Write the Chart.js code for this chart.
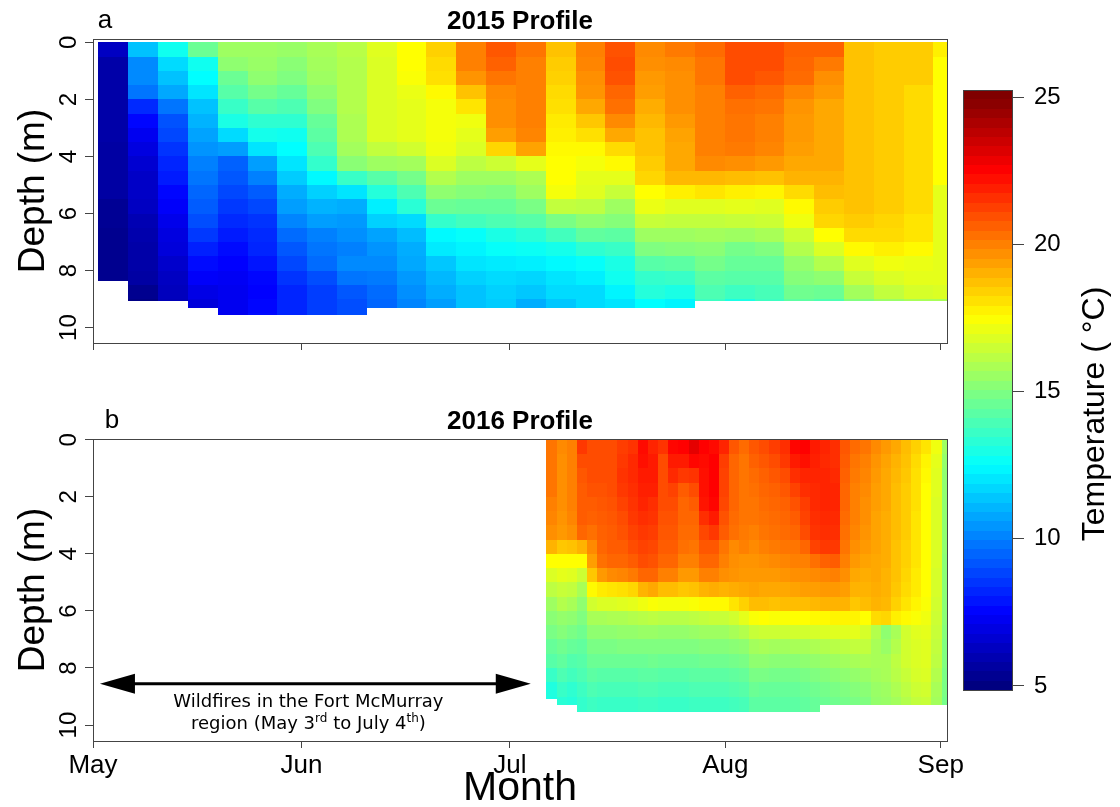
<!DOCTYPE html>
<html>
<head>
<meta charset="utf-8">
<title>Temperature profiles 2015 / 2016</title>
<script src="https://cdn.jsdelivr.net/npm/chart.js@4.4.1/dist/chart.umd.min.js"></script>
<style>
  html, body { margin: 0; padding: 0; background: #fff; }
  #wrap { position: relative; width: 1120px; height: 807px; overflow: hidden; }
  #wrap canvas { position: absolute; left: 0; top: 0; }
</style>
</head>
<body>
<div id="wrap">
  <canvas id="chart2015" width="1120" height="807"></canvas>
  <canvas id="chart2016" width="1120" height="807"></canvas>
  <canvas id="chartScale" width="1120" height="807"></canvas>
</div>
<script>
const FONT = "'Liberation Sans', Arial, sans-serif";
const axisColor = '#444';

// x is days after May 1
const monthTicks = [1, 31, 61, 92, 123];
const monthLabels = ['May', 'Jun', 'Jul', 'Aug', 'Sep'];
const depthTicks = [0, 2, 4, 6, 8, 10];
const tempTicks = [5, 10, 15, 20, 25];
const layerStep = 0.5;   // m between rows of each profile

// 2015 profiles: day, bottom depth (m), temperature (°C) every 0.5 m from the surface
const days2015 = [3.9, 8.2, 12.5, 16.8, 21.1, 25.4, 29.7, 34.0, 38.3, 42.6, 46.8, 51.1, 55.4, 59.7, 64.0,
  68.3, 72.6, 76.9, 81.2, 85.5, 89.8, 94.1, 98.3, 102.6, 106.9, 111.2, 115.5, 119.8, 124.1];
const bottom2015 = [8.35, 9.08, 9.08, 9.32, 9.55, 9.55, 9.55, 9.55, 9.55, 9.32, 9.32, 9.32, 9.32, 9.32, 9.32,
  9.32, 9.32, 9.32, 9.32, 9.32, 9.08, 9.08, 9.08, 9.08, 9.08, 9.08, 9.08, 9.08, 9.08];
const temp2015 = [
  [6.3,5.8,5.8,5.8,5.8,5.8,5.8,5.7,5.7,5.7,5.7,5.4,5.4,5.3,5.3,5.3,5.3],
  [11.3,10.2,10.2,9.8,8.3,7.6,7.2,6.9,6.6,6.4,6.4,6.3,6.0,5.9,5.8,5.8,5.7,5.3,5.1],
  [12.8,11.8,11.3,10.8,9.8,9.1,8.9,8.5,8.2,8.0,7.6,7.4,7.1,6.9,6.8,6.5,6.3,6.2,6.1],
  [14.6,12.8,12.5,12.0,11.3,11.0,10.7,10.4,10.0,9.8,9.5,9.3,9.0,8.6,8.1,7.7,7.4,7.0,6.8],
  [15.6,15.3,14.6,14.2,13.6,13.0,11.8,10.6,9.4,9.2,8.9,8.6,8.3,8.0,7.7,7.5,7.3,7.2,7.2,7.2],
  [15.6,15.5,15.3,14.8,14.2,13.4,12.9,12.0,10.6,10.0,9.3,8.9,8.5,8.3,8.2,7.9,7.6,7.5,7.6,7.7],
  [15.5,15.2,15.0,14.5,14.0,13.4,12.8,12.5,12.0,11.5,10.9,10.6,10.1,9.6,9.2,8.9,8.5,8.2,8.2,8.2],
  [15.8,15.7,15.6,15.3,15.0,14.5,14.3,14.0,13.5,12.4,11.6,11.0,10.6,10.0,9.8,9.6,9.0,8.7,8.7,8.7],
  [16.1,16.0,16.0,16.0,16.0,15.9,15.9,15.7,15.2,13.6,12.0,10.9,10.5,10.3,10.0,10.2,9.8,9.2,9.0,9.0],
  [16.9,16.8,16.8,16.8,16.8,16.8,16.8,16.3,15.6,14.2,13.2,12.2,11.6,10.7,10.4,10.2,9.9,9.6,9.5],
  [17.5,17.5,17.4,17.1,17.0,17.0,17.0,16.6,15.7,14.8,14.0,13.3,11.8,11.2,10.9,10.8,10.5,10.3,10.1],
  [18.4,18.2,18.1,17.6,17.3,17.3,17.3,17.2,16.8,16.0,15.3,14.6,13.5,12.4,12.1,11.4,11.1,10.9,10.6],
  [20.0,20.0,19.6,18.7,18.0,17.2,17.0,16.8,16.2,15.6,15.1,14.5,13.8,12.6,12.3,12.0,11.6,11.3,11.3],
  [20.8,20.6,20.2,19.8,19.7,19.7,19.4,18.3,16.5,15.6,15.0,14.5,14.0,13.0,12.6,12.1,11.8,11.6,11.5],
  [20.2,20.0,20.0,20.0,20.0,20.0,19.9,19.3,17.0,15.9,15.6,14.9,14.2,13.3,12.7,12.2,11.7,11.4,10.9],
  [18.7,18.5,18.4,18.2,18.1,17.9,17.8,17.6,17.5,17.5,17.3,16.3,14.9,13.8,12.9,12.4,12.0,11.8,11.4],
  [20.0,19.9,19.7,19.6,19.2,18.6,18.1,17.6,17.3,17.0,16.9,16.2,15.3,14.4,13.4,12.6,12.2,11.8,11.8],
  [20.9,21.0,20.9,20.5,20.3,19.8,19.2,18.2,17.6,17.0,16.4,15.6,15.1,14.3,13.6,13.0,12.8,12.3,12.0],
  [19.8,19.7,19.5,19.4,19.1,18.9,18.7,18.7,18.5,18.3,17.5,17.1,16.4,15.6,15.0,14.2,13.5,13.2,12.5],
  [20.1,19.8,19.7,19.7,19.7,19.5,19.3,19.2,19.2,18.9,17.8,16.9,16.3,15.6,15.1,14.3,13.6,13.0,12.3],
  [20.4,20.2,20.2,20.0,20.0,20.0,20.0,20.0,19.8,18.9,18.0,16.9,16.3,15.7,15.2,14.8,14.3,14.0,13.7],
  [21.0,21.0,21.0,20.6,20.3,20.2,20.2,20.1,19.7,18.8,17.8,17.0,16.4,15.6,14.8,14.5,14.2,13.7,13.0],
  [21.0,21.0,20.8,20.4,20.2,20.0,20.0,19.9,19.5,18.7,17.7,16.9,16.5,15.8,15.0,14.5,14.2,13.9,13.7],
  [20.6,20.5,20.4,19.9,19.6,19.5,19.5,19.4,19.2,19.0,18.2,17.6,17.2,16.5,16.0,15.4,15.1,14.7,14.3],
  [20.6,20.1,19.7,19.5,19.2,19.2,19.2,19.2,19.2,19.0,18.8,18.5,18.3,17.5,16.8,16.0,15.3,14.6,14.0],
  [18.7,18.7,18.7,18.7,18.7,18.7,18.7,18.7,18.7,18.7,18.7,18.7,18.5,18.2,17.6,16.9,16.4,15.7,15.0],
  [18.5,18.5,18.5,18.5,18.5,18.5,18.5,18.5,18.5,18.5,18.5,18.5,18.3,18.2,17.8,17.2,16.8,16.3,15.5],
  [18.5,18.5,18.5,18.2,18.2,18.2,18.2,18.2,18.2,18.2,18.2,18.2,18.0,18.0,17.6,17.1,17.0,16.7,15.8],
  [17.8,17.5,17.5,17.5,17.5,17.5,17.5,17.5,17.5,17.5,17.0,17.0,17.0,17.0,17.0,17.0,17.0,16.8,15.8]
];

// 2016 profiles (record starts after the fires)
const days2016 = [67.0, 68.5, 69.9, 71.4, 72.8, 74.3, 75.7, 77.2, 78.7, 80.1, 81.6, 83.0, 84.5, 86.0, 87.4,
  88.9, 90.3, 91.8, 93.2, 94.7, 96.2, 97.6, 99.1, 100.5, 102.0, 103.5, 104.9, 106.4, 107.8, 109.3,
  110.7, 112.2, 113.7, 115.1, 116.6, 118.0, 119.5, 120.9, 122.4, 123.9];
const bottom2016 = [9.07, 9.3, 9.3, 9.54, 9.54, 9.54, 9.54, 9.54, 9.54, 9.54, 9.54, 9.54, 9.54, 9.54,
  9.54, 9.54, 9.54, 9.54, 9.54, 9.54, 9.54, 9.54, 9.54, 9.54, 9.54, 9.54, 9.54, 9.3, 9.3, 9.3, 9.3,
  9.3, 9.3, 9.3, 9.3, 9.3, 9.3, 9.3, 9.3, 9.3];
const temp2016 = [
  [20.2,20.2,20.2,20.2,20.0,19.9,19.7,19.0,17.5,16.8,16.2,15.6,15.2,14.9,14.5,14.2,13.6,13.1,13.0],
  [19.8,19.7,19.7,19.7,19.7,19.6,19.5,18.6,17.5,17.0,16.4,16.0,15.4,15.1,14.7,14.4,14.0,13.6,13.3],
  [20.0,20.0,20.0,20.0,20.0,19.9,19.7,18.7,17.5,16.9,16.3,15.8,15.3,14.9,14.5,14.1,13.8,13.4,13.2],
  [21.4,21.0,20.8,20.7,20.7,20.7,20.5,19.0,17.5,16.5,15.8,15.3,15.0,14.7,14.4,14.2,14.0,13.7,13.5,13.4],
  [21.0,21.0,21.0,20.9,20.7,20.6,20.3,19.8,19.4,18.6,17.6,16.6,15.8,15.3,14.9,14.6,14.3,14.0,13.7,13.5],
  [21.0,21.0,21.0,20.9,20.8,20.7,20.6,20.5,20.3,19.5,17.9,16.8,15.8,15.3,14.9,14.6,14.2,13.9,13.6,13.4],
  [21.0,21.0,21.0,21.0,20.9,20.8,20.7,20.7,20.5,19.8,18.0,16.8,15.9,15.3,14.9,14.6,14.2,13.9,13.6,13.4],
  [21.3,21.4,21.5,21.4,21.2,21.0,20.9,20.7,20.5,19.9,18.1,16.9,15.9,15.4,15.0,14.6,14.2,13.9,13.6,13.4],
  [21.5,21.7,21.7,21.6,21.5,21.4,21.2,21.0,20.7,20.1,18.3,17.0,16.0,15.4,15.0,14.6,14.2,13.9,13.6,13.4],
  [22.3,22.2,22.0,21.9,21.8,21.6,21.4,21.2,21.0,20.5,19.0,17.2,16.1,15.5,15.0,14.6,14.3,14.0,13.7,13.5],
  [21.8,22.0,22.0,21.9,21.6,21.5,21.3,21.1,20.9,20.5,19.2,17.4,16.2,15.5,15.0,14.7,14.3,14.0,13.7,13.5],
  [21.5,21.0,21.0,21.0,21.0,20.9,20.8,20.7,20.5,20.0,18.8,17.3,16.1,15.4,15.0,14.6,14.2,13.9,13.6,13.4],
  [22.4,22.0,21.7,21.2,21.0,20.9,20.8,20.7,20.5,20.0,18.8,17.3,16.1,15.4,15.0,14.6,14.2,13.9,13.6,13.4],
  [22.5,22.0,21.4,20.7,20.5,20.5,20.4,20.3,20.0,19.5,18.6,17.3,16.1,15.4,15.0,14.6,14.2,13.9,13.6,13.4],
  [23.0,22.4,21.5,21.0,20.7,20.5,20.4,20.2,20.0,19.5,18.7,17.4,16.2,15.5,15.0,14.6,14.3,14.0,13.7,13.5],
  [22.5,22.3,22.2,22.2,22.1,21.6,21.1,20.8,20.5,20.0,19.0,17.6,16.3,15.6,15.1,14.7,14.3,14.0,13.7,13.5],
  [22.3,22.5,22.5,22.5,22.4,22.0,21.4,20.8,20.5,20.0,19.1,17.6,16.4,15.6,15.1,14.7,14.3,14.0,13.7,13.5],
  [21.8,21.3,21.2,21.2,21.1,20.9,20.7,20.2,20.0,19.7,19.0,17.6,16.4,15.6,15.1,14.7,14.3,14.0,13.7,13.5],
  [20.8,20.5,20.5,20.5,20.5,20.4,20.3,19.8,19.7,19.6,19.1,18.0,16.6,15.8,15.2,14.8,14.4,14.1,13.8,13.6],
  [20.4,20.2,20.2,20.2,20.2,20.2,20.1,20.0,19.6,19.5,19.2,18.4,17.0,16.0,15.3,14.9,14.5,14.2,13.9,13.7],
  [20.8,20.6,20.4,20.3,20.2,20.2,20.0,19.8,19.6,19.5,19.3,18.8,17.4,16.4,15.7,15.3,14.9,14.6,14.3,14.2],
  [21.0,20.8,20.6,20.5,20.4,20.3,20.2,20.0,19.7,19.5,19.2,18.8,17.5,16.5,15.8,15.3,14.9,14.5,14.3,14.2],
  [21.3,21.0,20.8,20.6,20.5,20.4,20.3,20.1,19.8,19.5,19.2,18.7,17.4,16.5,15.7,15.2,14.8,14.5,14.3,14.2],
  [21.6,21.4,21.0,20.8,20.6,20.5,20.4,20.2,19.9,19.6,19.2,18.8,17.4,16.5,15.7,15.2,14.8,14.5,14.3,14.2],
  [22.4,22.0,21.6,21.2,20.9,20.7,20.5,20.2,20.0,19.7,19.3,18.8,17.5,16.6,15.8,15.2,14.8,14.5,14.3,14.2],
  [22.5,22.2,21.8,21.6,21.3,21.2,21.0,20.5,20.0,19.7,19.4,18.8,17.5,16.6,15.8,15.3,14.9,14.6,14.4,14.2],
  [22.0,21.9,21.8,21.7,21.7,21.6,21.5,21.2,20.3,19.8,19.4,18.9,17.6,16.7,15.9,15.4,15.0,14.7,14.5,14.4],
  [21.8,21.7,21.8,21.8,21.8,21.7,21.6,21.4,20.6,19.9,19.5,19.0,17.6,16.8,16.0,15.5,15.1,14.8,14.6],
  [21.6,21.6,21.7,21.8,21.8,21.7,21.6,21.4,20.7,20.0,19.5,19.0,17.7,16.9,16.1,15.6,15.2,14.9,14.7],
  [20.8,20.7,20.6,20.5,20.5,20.4,20.3,20.2,20.0,19.7,19.4,19.0,17.7,16.9,16.2,15.7,15.3,15.0,14.8],
  [20.4,20.2,20.1,20.0,20.0,20.0,19.9,19.7,19.5,19.2,19.0,18.6,17.7,17.0,16.3,15.8,15.4,15.1,14.9],
  [20.2,20.0,19.9,19.8,19.7,19.7,19.6,19.5,19.3,19.1,19.0,18.8,17.5,16.7,16.3,15.9,15.5,15.2,15.0],
  [19.8,19.6,19.5,19.4,19.4,19.3,19.3,19.3,19.2,19.2,19.1,19.0,18.2,16.0,15.8,15.8,15.7,15.5,15.4],
  [19.5,19.3,19.2,19.2,19.2,19.1,19.1,19.1,19.1,19.0,19.0,18.9,18.3,15.3,15.5,15.8,15.8,15.6,15.5],
  [19.2,19.0,18.9,18.8,18.8,18.8,18.8,18.7,18.7,18.7,18.6,18.4,17.8,15.8,16.0,16.2,16.1,15.9,15.7],
  [18.8,18.7,18.6,18.5,18.5,18.5,18.5,18.4,18.4,18.3,18.2,18.0,17.6,16.6,16.6,16.6,16.4,16.2,16.0],
  [18.4,18.2,18.1,18.1,18.1,18.0,18.0,18.0,18.0,17.9,17.9,17.7,17.4,16.9,16.8,16.8,16.7,16.5,16.3],
  [18.0,17.7,17.6,17.5,17.5,17.5,17.5,17.5,17.5,17.5,17.5,17.4,17.2,17.0,16.9,16.9,16.8,16.6,16.4],
  [17.2,17.0,16.9,16.9,16.8,16.8,16.8,16.8,16.8,16.7,16.7,16.6,16.5,16.4,16.3,16.2,16.0,15.8,15.7],
  [15.6,15.4,15.3,15.3,15.3,15.3,15.3,15.3,15.2,15.2,15.2,15.2,15.2,15.1,15.0,15.0,14.9,14.9,14.8]
];

// Fort McMurray wildfires, May 3 to July 4 2016
const fireStart = 2;
const fireEnd = 64;
const fireDepth = 8.55;

// colour scale limits
const scaleMin = 4.86;
const scaleMax = 25.25;
const scaleSteps = 64;

function jet(t) {
  const f = Math.min(1, Math.max(0, (t - 5) / 20));
  const c = v => Math.round(255 * Math.min(1, Math.max(0, v)));
  return 'rgb(' + c(1.5 - Math.abs(4 * f - 3)) + ',' + c(1.5 - Math.abs(4 * f - 2)) + ',' + c(1.5 - Math.abs(4 * f - 1)) + ')';
}

function cellEdges(days) {
  return days.map((d, i) => {
    const prev = i > 0 ? days[i - 1] : d - (days[1] - days[0]);
    const next = i < days.length - 1 ? days[i + 1] : d + (d - days[i - 1]);
    return [(prev + d) / 2, (d + next) / 2];
  });
}

function layersPlugin(days, bottoms, temps) {
  const edges = cellEdges(days);
  return {
    id: 'layers',
    beforeDatasetsDraw(chart) {
      const { ctx, chartArea: a, scales: { x, y } } = chart;
      ctx.save();
      ctx.beginPath();
      ctx.rect(a.left, a.top, a.width, a.height);
      ctx.clip();
      temps.forEach((col, c) => {
        const x0 = Math.round(x.getPixelForValue(edges[c][0]));
        const x1 = Math.round(x.getPixelForValue(edges[c][1]));
        col.forEach((t, k) => {
          const y0 = Math.round(y.getPixelForValue(k * layerStep));
          const y1 = Math.round(y.getPixelForValue(Math.min((k + 1) * layerStep, bottoms[c])));
          ctx.fillStyle = jet(t);
          ctx.fillRect(x0, y0, x1 - x0, y1 - y0);
        });
      });
      ctx.restore();
    }
  };
}

function framePlugin(title, letter, letterX) {
  return {
    id: 'frame',
    afterDraw(chart) {
      const { ctx, chartArea: a, scales: { y } } = chart;
      ctx.save();
      ctx.strokeStyle = axisColor;
      ctx.lineWidth = 1;
      ctx.strokeRect(Math.round(a.left) + 0.5, Math.round(a.top) + 0.5, Math.round(a.width), Math.round(a.height));
      ctx.fillStyle = '#000';
      ctx.font = '24px ' + FONT;
      ctx.textAlign = 'center';
      ctx.textBaseline = 'alphabetic';
      y.ticks.forEach(tk => {
        ctx.save();
        ctx.translate(a.left - 17, y.getPixelForValue(tk.value));
        ctx.rotate(-Math.PI / 2);
        ctx.fillText(String(tk.value), 0, 0);
        ctx.restore();
      });
      ctx.font = 'bold 26px ' + FONT;
      ctx.textBaseline = 'middle';
      ctx.fillText(title, (a.left + a.right) / 2, a.top - 17);
      ctx.font = '26px ' + FONT;
      ctx.textBaseline = 'alphabetic';
      ctx.fillText(letter, letterX, a.top - 11.5);
      ctx.restore();
    }
  };
}

const firePlugin = {
  id: 'fires',
  afterDraw(chart) {
    const { ctx, scales: { x, y } } = chart;
    const xa = x.getPixelForValue(fireStart);
    const xb = x.getPixelForValue(fireEnd);
    const ya = y.getPixelForValue(fireDepth);
    const head = 35, half = 10;
    ctx.save();
    ctx.strokeStyle = '#000';
    ctx.fillStyle = '#000';
    ctx.lineWidth = 3;
    ctx.beginPath();
    ctx.moveTo(xa + head - 2, ya);
    ctx.lineTo(xb - head + 2, ya);
    ctx.stroke();
    ctx.beginPath();
    ctx.moveTo(xa, ya); ctx.lineTo(xa + head, ya - half); ctx.lineTo(xa + head, ya + half); ctx.closePath();
    ctx.moveTo(xb, ya); ctx.lineTo(xb - head, ya - half); ctx.lineTo(xb - head, ya + half); ctx.closePath();
    ctx.fill();

    const cx = x.getPixelForValue(32);
    ctx.font = "18px 'DejaVu Sans', Verdana, sans-serif";
    ctx.textAlign = 'center';
    ctx.textBaseline = 'alphabetic';
    ctx.fillText('Wildfires in the Fort McMurray', cx, ya + 23);

    // second line with superscript ordinals
    const parts = [['region (May 3', false], ['rd', true], [' to July 4', false], ['th', true], [')', false]];
    const big = "18px 'DejaVu Sans', Verdana, sans-serif";
    const small = "12px 'DejaVu Sans', Verdana, sans-serif";
    let total = 0;
    parts.forEach(([s, sup]) => { ctx.font = sup ? small : big; total += ctx.measureText(s).width; });
    let px = cx - total / 2;
    ctx.textAlign = 'left';
    parts.forEach(([s, sup]) => {
      ctx.font = sup ? small : big;
      ctx.fillText(s, px, ya + 45.5 - (sup ? 7 : 0));
      px += ctx.measureText(s).width;
    });
    ctx.restore();
  }
};

function monthScale(showLabels, height) {
  return {
    type: 'linear',
    min: 1,
    max: 123.9,
    afterBuildTicks: s => { s.ticks = monthTicks.map(v => ({ value: v })); },
    afterFit: s => { s.height = height; },
    grid: { display: true, drawOnChartArea: false, drawTicks: true, tickLength: 7, color: axisColor },
    border: { display: true, color: axisColor },
    ticks: {
      display: showLabels,
      autoSkip: false,
      maxRotation: 0,
      padding: 2,
      color: '#000',
      font: { family: FONT, size: 26 },
      callback: (v, i) => monthLabels[i]
    },
    title: {
      display: showLabels,
      text: 'Month',
      color: '#000',
      font: { family: FONT, size: 41, lineHeight: 0.9 },
      padding: { top: 0, bottom: 0 }
    }
  };
}

function depthScale(min, max) {
  return {
    type: 'linear',
    reverse: true,
    min: min,
    max: max,
    afterBuildTicks: s => { s.ticks = depthTicks.map(v => ({ value: v })); },
    afterFit: s => { s.width = 93; },
    grid: { display: true, drawOnChartArea: false, drawTicks: true, tickLength: 8, color: axisColor },
    border: { display: true, color: axisColor },
    ticks: { display: false },
    title: {
      display: true,
      text: 'Depth (m)',
      color: '#000',
      font: { family: FONT, size: 37 },
      padding: { top: 12, bottom: 0 }
    }
  };
}

const common = {
  responsive: false,
  animation: false,
  devicePixelRatio: 1,
  events: [],
  plugins: { legend: { display: false }, tooltip: { enabled: false } }
};

new Chart(document.getElementById('chart2015'), {
  type: 'scatter',
  data: { datasets: [] },
  options: {
    ...common,
    layout: { padding: { left: 0, right: 173, top: 39, bottom: 407 } },
    scales: { x: monthScale(false, 57), y: depthScale(-0.12, 10.54) }
  },
  plugins: [layersPlugin(days2015, bottom2015, temp2015), framePlugin('2015 Profile', 'a', 105)]
});

new Chart(document.getElementById('chart2016'), {
  type: 'scatter',
  data: { datasets: [] },
  options: {
    ...common,
    layout: { padding: { left: 0, right: 173, top: 439, bottom: 0 } },
    scales: { x: monthScale(true, 66), y: depthScale(-0.03, 10.56) }
  },
  plugins: [layersPlugin(days2016, bottom2016, temp2016), framePlugin('2016 Profile', 'b', 112), firePlugin]
});

const colourBar = {
  id: 'colourBar',
  beforeDatasetsDraw(chart) {
    const { ctx, chartArea: a, scales: { y } } = chart;
    const step = (scaleMax - scaleMin) / scaleSteps;
    ctx.save();
    for (let i = 0; i < scaleSteps; i++) {
      const lo = scaleMin + i * step;
      const y0 = Math.round(y.getPixelForValue(lo));
      const y1 = Math.round(y.getPixelForValue(lo + step));
      ctx.fillStyle = jet(lo + step / 2);
      ctx.fillRect(a.left, y1, a.width, y0 - y1);
    }
    ctx.strokeStyle = axisColor;
    ctx.lineWidth = 1;
    ctx.strokeRect(Math.round(a.left) + 0.5, Math.round(a.top) + 0.5, Math.round(a.width), Math.round(a.height));
    ctx.restore();
  },
  afterDraw(chart) {
    const { ctx } = chart;
    ctx.save();
    ctx.fillStyle = '#000';
    ctx.font = '32px ' + FONT;
    ctx.textAlign = 'center';
    ctx.textBaseline = 'middle';
    ctx.translate(1095, 414);
    ctx.rotate(-Math.PI / 2);
    ctx.fillText('Temperature ( \u00B0C)', 0, 0);
    ctx.restore();
  }
};

new Chart(document.getElementById('chartScale'), {
  type: 'scatter',
  data: { datasets: [] },
  options: {
    ...common,
    layout: { padding: { left: 963, right: 28, top: 90, bottom: 117 } },
    scales: {
      x: { display: false, min: 0, max: 1 },
      y: {
        type: 'linear',
        position: 'right',
        min: scaleMin,
        max: scaleMax,
        afterBuildTicks: s => { s.ticks = tempTicks.map(v => ({ value: v })); },
        afterFit: s => { s.width = 80; },
        grid: { display: true, drawOnChartArea: false, drawTicks: true, tickLength: 12, color: axisColor },
        border: { display: false },
        ticks: { color: '#000', padding: 10, font: { family: FONT, size: 24 }, callback: v => String(v) }
      }
    }
  },
  plugins: [colourBar]
});
</script>
</body>
</html>
